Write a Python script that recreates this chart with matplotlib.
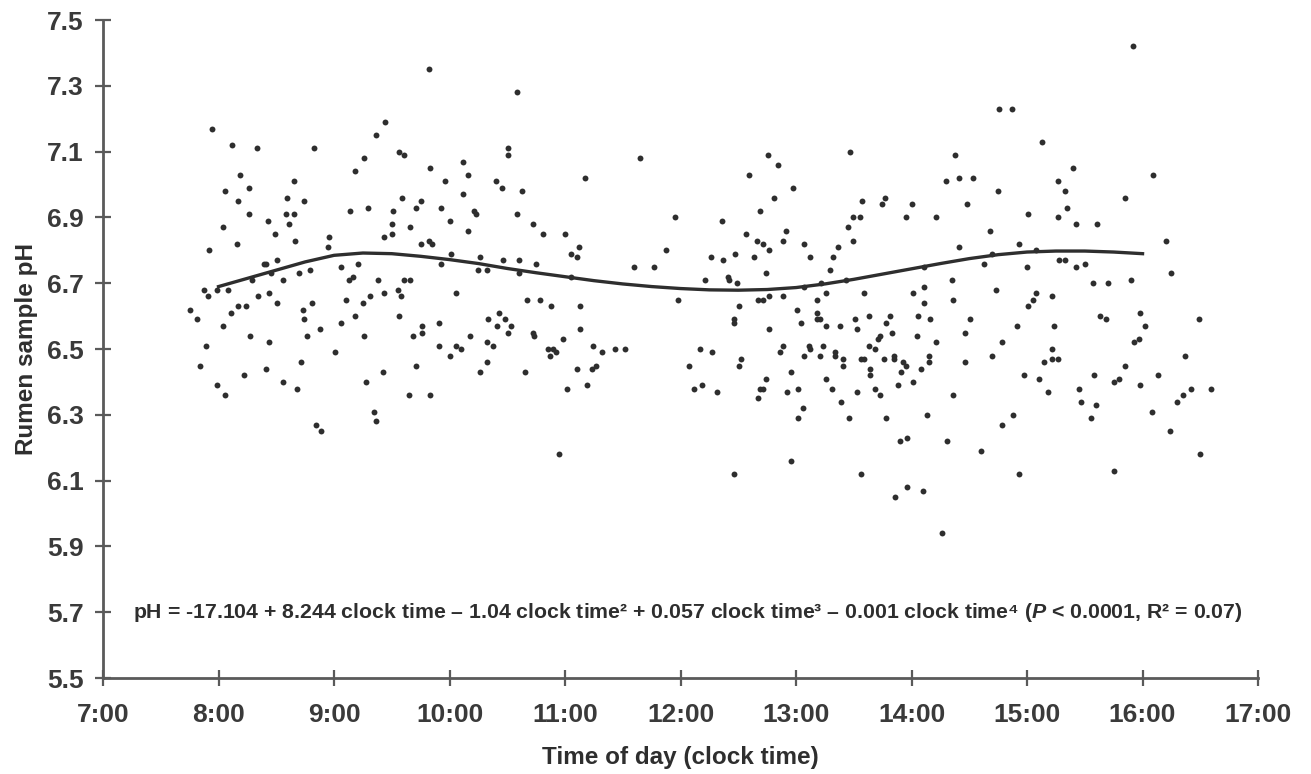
import matplotlib
matplotlib.use("Agg")
import matplotlib.pyplot as plt

plt.rcParams['font.family'] = ['Liberation Sans', 'DejaVu Sans']
plt.rcParams['mathtext.fontset'] = 'custom'
plt.rcParams['mathtext.rm'] = 'Liberation Sans:bold'
plt.rcParams['mathtext.it'] = 'Liberation Sans:italic:bold'
plt.rcParams['mathtext.bf'] = 'Liberation Sans:bold'

# rumen samples, clock time in hours in time bands
band_a_time = [7.94, 8.12, 8.33, 8.83, 9.36, 9.26, 9.18, 8.19, 8.26, 8.06,
               8.17, 8.65, 8.59, 8.74, 8.26, 8.58, 8.65, 8.43, 8.61, 9.14,
               9.29, 8.04, 8.49, 8.66, 8.16, 8.96, 8.95, 7.92, 8.39, 8.41,
               8.51, 8.79, 8.70, 9.06, 9.21, 8.29, 8.45, 8.56, 9.13, 9.16,
               9.38, 7.87, 7.91, 7.99, 8.08, 8.34, 8.44, 8.51, 9.10, 9.25,
               9.31, 7.75, 7.81, 8.11, 8.17, 8.24, 8.73, 8.74, 8.81, 9.18,
               9.06, 8.04, 8.27, 8.44, 8.77, 8.88, 9.26, 7.89, 9.01, 7.84,
               8.22, 8.41, 8.71, 7.99, 8.06, 8.56, 8.68, 9.28, 9.35, 9.36,
               8.84, 8.89]
band_a_ph = [7.17, 7.12, 7.11, 7.11, 7.15, 7.08, 7.04, 7.03, 6.99, 6.98,
             6.95, 7.01, 6.96, 6.95, 6.91, 6.91, 6.91, 6.89, 6.88, 6.92,
             6.93, 6.87, 6.85, 6.83, 6.82, 6.84, 6.81, 6.80, 6.76, 6.76,
             6.77, 6.74, 6.73, 6.75, 6.76, 6.71, 6.73, 6.71, 6.71, 6.72,
             6.71, 6.68, 6.66, 6.68, 6.68, 6.66, 6.67, 6.64, 6.65, 6.64,
             6.66, 6.62, 6.59, 6.61, 6.63, 6.63, 6.62, 6.59, 6.64, 6.60,
             6.58, 6.57, 6.54, 6.52, 6.54, 6.56, 6.54, 6.51, 6.49, 6.45,
             6.42, 6.44, 6.46, 6.39, 6.36, 6.40, 6.38, 6.40, 6.31, 6.28,
             6.27, 6.25]

band_b_time = [9.82, 10.58, 9.44, 9.56, 9.61, 9.83, 10.12, 10.16, 10.51, 10.51,
               9.96, 10.40, 10.45, 10.63, 11.17, 9.59, 9.75, 9.71, 9.51, 9.93,
               10.12, 10.21, 10.23, 10.58, 10.00, 9.50, 9.66, 10.16, 10.72, 10.81,
               11.00, 9.43, 9.50, 9.75, 9.82, 9.85, 11.12, 11.05, 11.10, 10.01,
               9.93, 10.26, 10.25, 10.32, 10.46, 10.60, 10.60, 10.75, 11.05, 9.61,
               9.66, 9.43, 9.55, 9.58, 10.06, 10.67, 10.78, 10.88, 11.13, 9.56,
               9.91, 9.76, 9.76, 9.68, 10.33, 10.43, 10.48, 10.41, 10.53, 10.51,
               10.18, 10.72, 10.73, 10.98, 11.13, 9.91, 10.06, 10.10, 10.00, 10.32,
               10.38, 10.85, 10.90, 10.92, 10.87, 9.42, 9.71, 10.32, 10.26, 10.65,
               11.10, 9.65, 9.83, 11.02, 11.19, 10.95]
band_b_ph = [7.35, 7.28, 7.19, 7.10, 7.09, 7.05, 7.07, 7.03, 7.11, 7.09,
             7.01, 7.01, 6.99, 6.98, 7.02, 6.96, 6.95, 6.93, 6.92, 6.93,
             6.97, 6.92, 6.91, 6.91, 6.89, 6.88, 6.87, 6.86, 6.88, 6.85,
             6.85, 6.84, 6.85, 6.82, 6.83, 6.82, 6.81, 6.79, 6.78, 6.79,
             6.76, 6.78, 6.74, 6.74, 6.77, 6.77, 6.73, 6.76, 6.72, 6.71,
             6.71, 6.67, 6.68, 6.66, 6.67, 6.65, 6.65, 6.63, 6.63, 6.60,
             6.58, 6.57, 6.55, 6.54, 6.59, 6.61, 6.59, 6.57, 6.57, 6.55,
             6.54, 6.55, 6.54, 6.53, 6.56, 6.51, 6.51, 6.50, 6.48, 6.52,
             6.51, 6.50, 6.50, 6.49, 6.48, 6.43, 6.45, 6.46, 6.43, 6.43,
             6.44, 6.36, 6.36, 6.38, 6.39, 6.18]

band_c_time = [11.65, 12.76, 12.84, 12.59, 12.97, 12.81, 12.69, 11.95, 12.36, 12.91,
               12.57, 12.66, 12.71, 12.89, 11.87, 12.77, 11.60, 11.77, 12.26, 12.37,
               12.47, 12.64, 12.21, 12.41, 12.42, 12.49, 12.74, 11.98, 12.67, 12.71,
               12.77, 12.89, 12.51, 13.01, 12.46, 12.46, 13.04, 12.77, 11.24, 11.32,
               11.43, 11.52, 12.17, 12.27, 12.89, 12.86, 11.23, 11.27, 12.07, 12.51,
               12.52, 12.74, 12.96, 12.12, 12.19, 12.32, 12.69, 12.71, 12.67, 12.92,
               13.02, 13.02, 12.96, 12.46]
band_c_ph = [7.08, 7.09, 7.06, 7.03, 6.99, 6.96, 6.92, 6.90, 6.89, 6.86,
             6.85, 6.83, 6.82, 6.83, 6.80, 6.80, 6.75, 6.75, 6.78, 6.77,
             6.79, 6.78, 6.71, 6.72, 6.71, 6.70, 6.73, 6.65, 6.65, 6.65,
             6.66, 6.66, 6.63, 6.62, 6.59, 6.58, 6.58, 6.56, 6.51, 6.49,
             6.50, 6.50, 6.50, 6.49, 6.51, 6.49, 6.44, 6.45, 6.45, 6.45,
             6.47, 6.41, 6.43, 6.38, 6.39, 6.37, 6.38, 6.38, 6.35, 6.37,
             6.38, 6.29, 6.16, 6.12]

band_d_time = [14.76, 13.47, 14.38, 14.30, 14.41, 14.53, 14.75, 13.57, 13.74, 13.77,
               14.00, 14.48, 13.49, 13.55, 13.95, 14.21, 13.45, 13.49, 13.36, 14.68,
               14.41, 13.07, 13.12, 13.32, 14.70, 14.63, 13.29, 14.11, 13.43, 13.22,
               13.07, 14.35, 14.11, 13.18, 13.26, 13.59, 14.01, 14.11, 14.36, 14.73,
               13.18, 13.18, 13.21, 13.26, 13.38, 13.51, 13.53, 13.63, 13.78, 13.81,
               13.83, 14.06, 14.16, 14.05, 14.51, 14.46, 14.78, 13.11, 13.12, 13.07,
               13.23, 13.21, 13.34, 13.34, 13.41, 13.41, 13.56, 13.59, 13.63, 13.68,
               13.71, 13.73, 13.76, 13.85, 13.85, 13.93, 13.95, 13.91, 14.08, 14.15,
               14.15, 14.21, 14.46, 14.70, 13.64, 13.64, 13.26, 13.31, 13.68, 13.73,
               13.88, 14.01, 13.53, 13.39, 14.36, 13.06, 13.46, 13.78, 14.13, 14.78,
               13.90, 13.96, 14.31, 14.60, 13.56, 13.86, 13.96, 14.10, 14.26]
band_d_ph = [7.23, 7.10, 7.09, 7.01, 7.02, 7.02, 6.98, 6.95, 6.94, 6.96,
             6.94, 6.94, 6.90, 6.90, 6.90, 6.90, 6.87, 6.83, 6.81, 6.86,
             6.81, 6.82, 6.78, 6.78, 6.79, 6.76, 6.74, 6.75, 6.71, 6.70,
             6.69, 6.71, 6.69, 6.65, 6.67, 6.67, 6.67, 6.64, 6.65, 6.68,
             6.61, 6.59, 6.59, 6.57, 6.57, 6.59, 6.56, 6.60, 6.58, 6.60,
             6.55, 6.60, 6.59, 6.54, 6.59, 6.55, 6.52, 6.51, 6.50, 6.48,
             6.51, 6.48, 6.49, 6.48, 6.47, 6.45, 6.47, 6.47, 6.51, 6.50,
             6.53, 6.54, 6.47, 6.48, 6.47, 6.46, 6.45, 6.43, 6.44, 6.48,
             6.46, 6.52, 6.46, 6.48, 6.44, 6.42, 6.41, 6.38, 6.38, 6.36,
             6.39, 6.40, 6.37, 6.34, 6.36, 6.32, 6.29, 6.29, 6.30, 6.27,
             6.22, 6.23, 6.22, 6.19, 6.12, 6.05, 6.08, 6.07, 5.94]

band_e_time = [15.92, 14.87, 15.13, 15.40, 16.09, 15.27, 15.33, 15.85, 15.01, 15.27,
               15.35, 15.42, 15.61, 14.93, 16.20, 15.08, 15.00, 15.28, 15.33, 15.42,
               15.50, 16.25, 15.57, 15.70, 15.90, 15.08, 15.05, 15.01, 15.22, 14.91,
               15.23, 15.63, 15.68, 15.98, 16.02, 16.49, 15.93, 15.97, 15.22, 15.15,
               15.22, 15.27, 16.37, 15.85, 14.97, 15.10, 15.58, 15.75, 15.80, 16.13,
               15.98, 15.18, 15.45, 16.42, 16.59, 16.35, 16.30, 15.47, 15.60, 15.55,
               16.08, 14.88, 16.24, 16.50, 14.93, 15.75]
band_e_ph = [7.42, 7.23, 7.13, 7.05, 7.03, 7.01, 6.98, 6.96, 6.91, 6.90,
             6.93, 6.88, 6.88, 6.82, 6.83, 6.80, 6.75, 6.77, 6.77, 6.75,
             6.76, 6.73, 6.70, 6.70, 6.71, 6.67, 6.65, 6.63, 6.66, 6.57,
             6.57, 6.60, 6.59, 6.61, 6.57, 6.59, 6.52, 6.53, 6.50, 6.46,
             6.47, 6.47, 6.48, 6.45, 6.42, 6.41, 6.42, 6.40, 6.41, 6.42,
             6.39, 6.37, 6.38, 6.38, 6.38, 6.36, 6.34, 6.34, 6.33, 6.29,
             6.31, 6.30, 6.25, 6.18, 6.12, 6.13]

# fitted curve
fit_time = [8.0, 8.25, 8.5, 8.75, 9.0, 9.25, 9.5, 9.75, 10.0, 10.25, 10.5,
            10.75, 11.0, 11.25, 11.5, 11.75, 12.0, 12.25, 12.5, 12.75, 13.0,
            13.25, 13.5, 13.75, 14.0, 14.25, 14.5, 14.75, 15.0, 15.25, 15.5,
            15.75, 16.0]
fit_ph = [6.69, 6.715, 6.74, 6.765, 6.785, 6.792, 6.79, 6.782, 6.772, 6.76,
          6.745, 6.732, 6.72, 6.708, 6.698, 6.69, 6.684, 6.68, 6.679, 6.681,
          6.687, 6.698, 6.712, 6.728, 6.744, 6.76, 6.775, 6.787, 6.795, 6.798,
          6.798, 6.795, 6.79]

x_ticks = list(range(7, 18))
x_labels = ['%d:00' % h for h in x_ticks]
y_ticks = [5.5, 5.7, 5.9, 6.1, 6.3, 6.5, 6.7, 6.9, 7.1, 7.3, 7.5]

equation = ('pH = -17.104 + 8.244 clock time \u2013 1.04 clock time\u00b2 + 0.057 clock time\u00b3'
            ' \u2013 0.001 clock time\u2074 ($P$ < 0.0001, R\u00b2 = 0.07)')

dark = '#2e2e2e'
axis_col = '#5a5a5a'

fig = plt.figure(figsize=(13.11, 7.74), dpi=100)
ax = fig.add_axes([0.0786, 0.124, 0.881, 0.850])

for t, p in [(band_a_time, band_a_ph), (band_b_time, band_b_ph), (band_c_time, band_c_ph),
             (band_d_time, band_d_ph), (band_e_time, band_e_ph)]:
    ax.scatter(t, p, s=18, color=dark, linewidths=0, zorder=3)

ax.plot(fit_time, fit_ph, color=dark, linewidth=2.4, zorder=4)

ax.set_xlim(7, 17)
ax.set_ylim(5.5, 7.5)
ax.set_xticks(x_ticks)
ax.set_xticklabels(x_labels)
ax.set_yticks(y_ticks)
ax.set_yticklabels(['%.1f' % v for v in y_ticks])

for s in ['top', 'right']:
    ax.spines[s].set_visible(False)
for s in ['left', 'bottom']:
    ax.spines[s].set_color(axis_col)
    ax.spines[s].set_linewidth(2)

ax.tick_params(direction='inout', length=12, width=1.6, color=axis_col,
               labelsize=19, labelcolor='#3a3a3a')
ax.tick_params(axis='x', pad=12)
ax.tick_params(axis='y', pad=8)
for lab in ax.get_xticklabels() + ax.get_yticklabels():
    lab.set_fontweight('bold')

ax.set_xlabel('Time of day (clock time)', fontsize=17.5, fontweight='bold',
              color=dark, labelpad=14)
ax.set_ylabel('Rumen sample pH', fontsize=17.5, fontweight='bold',
              color=dark, labelpad=6)

ax.text(7.26, 5.7, equation, fontsize=15.3, fontweight='bold', color=dark,
        va='center', ha='left')

fig.savefig('out.png', dpi=100)
